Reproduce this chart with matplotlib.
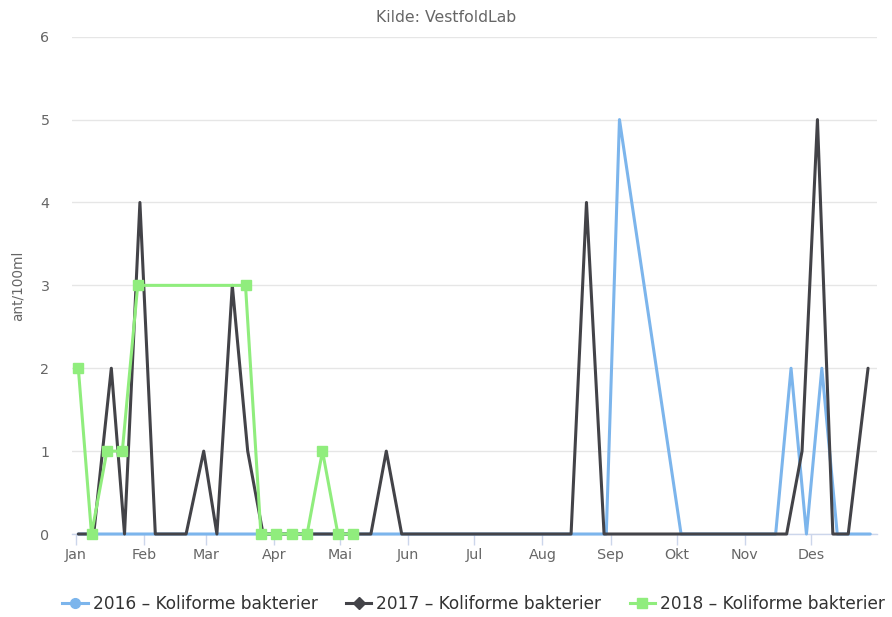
import numpy as np
import pandas as pd
import matplotlib
matplotlib.use('Agg')
import matplotlib.pyplot as plt
from matplotlib.lines import Line2D

plt.rcParams['font.family'] = ['DejaVu Sans']

# data, dates as month-day, values in ant/100ml
dates_2016 = ['01-02', '08-30', '09-05', '10-03', '11-15', '11-22', '11-29', '12-06', '12-13', '12-28']
vals_2016 = [0, 0, 5, 0, 0, 2, 0, 2, 0, 0]

dates_2017 = ['01-02', '01-09', '01-17', '01-23', '01-30', '02-06', '02-20', '02-28', '03-06', '03-13',
              '03-20', '03-27', '05-15', '05-22', '05-29', '08-14', '08-21', '08-29', '11-20', '11-27',
              '12-04', '12-11', '12-18', '12-27']
vals_2017 = [0, 0, 2, 0, 4, 0, 0, 1, 0, 3, 1, 0, 0, 1, 0, 0, 4, 0, 0, 1, 5, 0, 0, 2]

dates_2018 = ['01-02', '01-08', '01-15', '01-22', '01-29', '03-19', '03-26', '04-02', '04-09', '04-16',
              '04-23', '04-30', '05-07']
vals_2018 = [2, 0, 1, 1, 3, 3, 0, 0, 0, 0, 1, 0, 0]

months = ['Jan', 'Feb', 'Mar', 'Apr', 'Mai', 'Jun', 'Jul', 'Aug', 'Sep', 'Okt', 'Nov', 'Des']
labels = ['2016 – Koliforme bakterier', '2017 – Koliforme bakterier', '2018 – Koliforme bakterier']
colors = ['#7cb5ec', '#434348', '#90ed7d']


def doy(md):
    return np.array([pd.Timestamp('2001-' + d).dayofyear - 1 for d in md])


fig = plt.figure(figsize=(8.92, 6.17), dpi=100)
ax = fig.add_axes([0.0804, 0.1345, 0.9031, 0.806])

kw = dict(linewidth=2.2, solid_joinstyle='round', solid_capstyle='round', clip_on=False)
ax.plot(doy(dates_2016), vals_2016, color=colors[0], zorder=3, **kw)
ax.plot(doy(dates_2017), vals_2017, color=colors[1], zorder=4, **kw)
ax.plot(doy(dates_2018), vals_2018, color=colors[2], marker='s', markersize=7.5, zorder=5, **kw)

month_starts = [pd.Timestamp(2001, m, 1).dayofyear - 1 for m in range(1, 13)]
ax.set_xticks(month_starts)
ax.set_xticklabels(months)
ax.set_xlim(-2, 364.2)
ax.set_ylim(0, 6)
ax.set_yticks(range(7))

ax.grid(axis='y', color='#e6e6e6', linewidth=1)
ax.set_axisbelow(True)
for s in ['top', 'right', 'left']:
    ax.spines[s].set_visible(False)
ax.spines['bottom'].set_color('#ccd6eb')
ax.spines['bottom'].set_linewidth(1)
ax.tick_params(axis='x', colors='#ccd6eb', length=8, width=1, labelcolor='#666666', labelsize=10.3, pad=2)
ax.tick_params(axis='y', length=0, labelcolor='#666666', labelsize=10.3, pad=16)
ax.set_ylabel('ant/100ml', color='#666666', fontsize=9.8, labelpad=11)

fig.text(0.5, 0.971, 'Kilde: VestfoldLab', ha='center', va='center', color='#666666', fontsize=11.3)

handles = [
    Line2D([], [], color=colors[0], linewidth=2.2, marker='o', markersize=7),
    Line2D([], [], color=colors[1], linewidth=2.2, marker='D', markersize=6),
    Line2D([], [], color=colors[2], linewidth=2.2, marker='s', markersize=7),
]
fig.legend(handles, labels, loc='center', bbox_to_anchor=(0.531, 0.021), ncol=3, frameon=False,
           fontsize=12.25, handlelength=1.5, columnspacing=1.65, handletextpad=0.3,
           labelcolor='#333333')

fig.savefig('out.png', dpi=100)
